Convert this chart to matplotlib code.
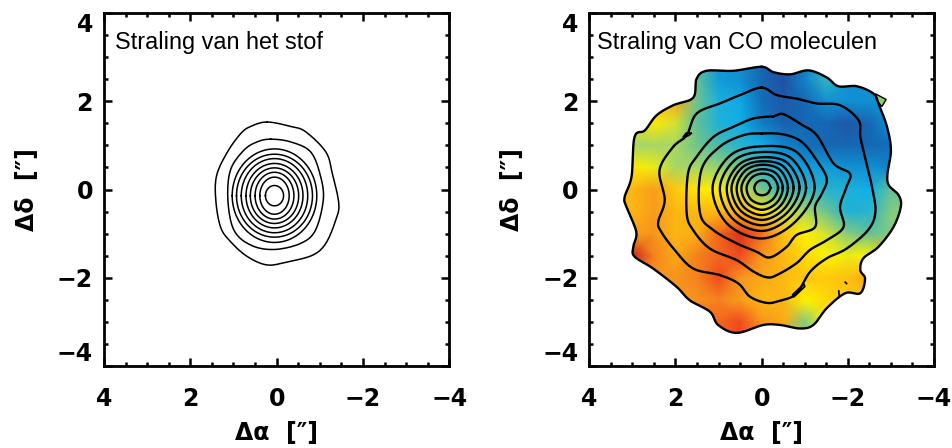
import numpy as np
import matplotlib
matplotlib.use("Agg")
import matplotlib.pyplot as plt
from matplotlib.colors import LinearSegmentedColormap
from matplotlib.patches import Polygon
from matplotlib.ticker import MultipleLocator, FixedLocator

plt.rcParams["font.family"] = ["DejaVu Sans"]

# ---- data, in arcseconds ----
TITLE_DUST = "Straling van het stof"
TITLE_CO = "Straling van CO moleculen"
XLABEL = "Δα  [″]"
YLABEL = "Δδ  [″]"
MAJOR_TICKS = [-4, -2, 0, 2, 4]

dust_outer_x = [.22, -.32, -.67, -1.14, -1.29, -1.44, -1.37, -1.14, -.83, -.25, .22, .68, 1.07, 1.30, 1.41, 1.39, 1.14, .83, .60]
dust_outer_y = [1.53, 1.43, 1.31, .85, .36, -.32, -.69, -1.22, -1.49, -1.64, -1.71, -1.52, -1.18, -.85, -.24, .32, .85, 1.27, 1.43]
dust_second_x = [.14, -.32, -.79, -1.02, -1.08, -.90, -.56, .06, .60, .99, 1.13, 1.07, .76, .45]
dust_second_y = [1.14, 1.08, .85, .29, -.24, -.92, -1.22, -1.36, -1.26, -.92, -.24, .44, .89, 1.08]
dust_ring_cx = 0.05
dust_ring_cy = -0.14
dust_ring_rx = [.21, .34, .45, .56, .66, .77, .88, .98]
dust_ring_ry = [.23, .42, .53, .63, .73, .84, .94, 1.06]

co_edge_x = [0, -.27, -.66, -1.09, -1.51, -1.78, -2.21, -2.60, -2.71, -2.91, -3.00, -2.92, -2.95, -3.18, -3.23, -3.06, -2.71, -2.36, -2.29, -2.40, -2.29, -1.94, -1.51, -1.20, -.89, -.43, -.04, .58, 1.01, 1.20, 1.67, 1.98, 2.52, 2.95, 2.98, 2.91, 3.14, 3.18, 3.02, 2.95, 2.71, 2.44, 2.05, 1.59, 1.51, 1.28, .66]
co_edge_y = [2.78, 2.66, 2.61, 2.70, 2.54, 2.34, 2.34, 2.17, 1.95, 1.42, .89, .36, .10, -.13, -.39, -.85, -1.30, -1.56, -1.83, -2.02, -2.35, -2.35, -2.69, -3.07, -3.15, -3.07, -3.07, -3.25, -3.07, -2.77, -2.51, -2.20, -1.79, -1.52, -1.30, -.96, -.39, -.17, .29, 1.19, 1.34, 1.68, 1.91, 2.08, 2.51, 2.69, 2.69]
co_c1_x = [0, -.35, -.81, -1.28, -1.82, -2.25, -2.29, -2.40, -2.56, -2.64, -2.47, -1.97, -1.51, -1.12, -.81, -.43, -.12, .27, .54, .97, 1.59, 2.02, 2.33, 2.40, 2.25, 2.37, 2.05, 1.74, 1.51, .97, .50]
co_c1_y = [2.31, 2.14, 2.06, 1.95, 1.91, 1.57, 1.19, .74, .06, -.51, -.92, -1.34, -1.56, -1.87, -2.36, -2.52, -2.57, -2.43, -2.13, -1.94, -1.79, -1.37, -.96, -.73, -.24, .44, .97, 1.23, 1.72, 1.95, 2.14]
co_c2_x = [-.27, -.50, -.89, -1.28, -1.67, -2.05, -1.97, -1.82, -1.90, -1.51, -1.12, -.81, -.35, -.12, .19, .58, 1.20, 1.59, 1.74, 1.71, 1.51, 1.12, .66, .19]
co_c2_y = [1.66, 1.71, 1.49, 1.23, .59, .36, .06, -.39, -.85, -1.15, -1.37, -1.67, -1.94, -1.99, -1.86, -1.60, -1.34, -.92, -.54, .36, .74, 1.19, 1.42, 1.61]
co_c3_x = [0, -.50, -.93, -1.28, -1.51, -1.40, -1.24, -1.24, -.81, -.58, -.19, .12, .58, 1.12, 1.43, 1.40, .97, .43]
co_c3_y = [1.27, 1.25, 1.08, .66, .25, -.09, -.39, -.85, -1.03, -1.30, -1.54, -1.41, -1.22, -.92, -.54, .44, .97, 1.23]
co_ring_cx = -0.01
co_ring_cy = 0.04
# ring radii towards the eight compass directions on the sky picture
co_ring_e = [.19, .37, .48, .60, .73, .87, 1.02, 1.22]
co_ring_ne = [.18, .35, .46, .58, .69, .81, .95, 1.14]
co_ring_n = [.17, .32, .42, .52, .60, .69, .81, .94]
co_ring_nw = [.17, .33, .44, .55, .65, .75, .89, 1.04]
co_ring_w = [.18, .36, .48, .59, .71, .82, .98, 1.15]
co_ring_sw = [.18, .37, .49, .61, .72, .84, .98, 1.15]
co_ring_s = [.17, .37, .50, .62, .73, .85, .98, 1.15]
co_ring_se = [.18, .36, .48, .59, .70, .81, .93, 1.09]
co_patch_x = [-2.64, -2.89, -2.79, -2.67]
co_patch_y = [2.17, 2.04, 1.88, 2.02]
co_hole1_x = [-.72, -.98, -1.00, -.74]
co_hole1_y = [-2.38, -2.14, -2.20, -2.44]
co_hole2_x = [1.75, 1.62, 1.70, 1.83]
co_hole2_y = [1.28, 1.28, 1.22, 1.18]
co_dash1_x = [-1.79, -1.80]
co_dash1_y = [-2.30, -2.42]
co_dash2_x = [-1.94, -1.97]
co_dash2_y = [-2.10, -2.13]

field_x = [3.5, 3, 2.5, 2, 1.5, 1, .5, 0, -.5, -1, -1.5, -2, -2.5, -3, -3.5]
field_y = [3, 2.5, 2, 1.5, 1, .5, 0, -.5, -1, -1.5, -2, -2.5, -3, -3.5]
f_y300 = [.60, .60, .70, .75, .40, .20, .20, .12, .05, .15, .30, .20, .20, .20, .20]
f_y250 = [.60, .60, .70, .75, .40, .22, .20, .12, .05, .18, .32, .20, .20, .20, .20]
f_y200 = [.55, .50, .70, .75, .42, .27, .24, .14, .08, .12, .20, .20, .20, .20, .20]
f_y150 = [.55, .55, .62, .55, .40, .28, .25, .17, .10, .12, .12, .07, .12, .20, .20]
f_y100 = [.50, .50, .50, .50, .42, .36, .30, .25, .18, .15, .12, .12, .12, .14, .14]
f_y050 = [.62, .62, .58, .50, .50, .48, .42, .32, .25, .22, .22, .20, .20, .18, .18]
f_y000 = [.75, .72, .78, .68, .62, .60, .55, .42, .33, .32, .30, .28, .25, .40, .40]
f_ym05 = [.72, .72, .78, .72, .72, .72, .72, .62, .55, .50, .42, .28, .30, .45, .45]
f_ym10 = [.78, .78, .80, .72, .74, .85, .92, .84, .70, .60, .55, .45, .40, .45, .45]
f_ym15 = [.95, .95, .82, .75, .82, .85, .88, .80, .72, .65, .60, .58, .60, .78, .78]
f_ym20 = [.85, .85, .80, .80, .82, .88, .80, .75, .72, .68, .68, .70, .75, .70, .70]
f_ym25 = [.80, .80, .80, .80, .80, .82, .78, .72, .72, .60, .65, .68, .68, .68, .68]
f_ym30 = [.85, .85, .85, .85, .85, .85, .88, .80, .75, .45, .60, .68, .68, .68, .68]
f_ym35 = [.85, .85, .85, .85, .85, .85, .88, .80, .75, .45, .60, .68, .68, .68, .68]
field_rows = [f_y300, f_y250, f_y200, f_y150, f_y100, f_y050, f_y000, f_ym05, f_ym10, f_ym15, f_ym20, f_ym25, f_ym30, f_ym35]

velocity_cmap = LinearSegmentedColormap.from_list("velocity", [
    (0.00, "#2b3f98"), (0.15, "#1072bb"), (0.25, "#10aee8"), (0.38, "#55bca0"),
    (0.50, "#a5d568"), (0.60, "#fff200"), (0.70, "#fdc010"), (0.80, "#f7941d"),
    (0.90, "#ee3a1f"), (1.00, "#a01020")])


def smooth_closed(x, y, n=10):
    """Catmull-Rom rendering of a closed outline."""
    p = np.column_stack([x, y])
    t = np.linspace(0, 1, n, endpoint=False)[:, None]
    segs = []
    for i in range(len(p)):
        p0, p1, p2, p3 = p[i - 1], p[i], p[(i + 1) % len(p)], p[(i + 2) % len(p)]
        segs.append(0.5 * (2 * p1 + (p2 - p0) * t + (2 * p0 - 5 * p1 + 4 * p2 - p3) * t ** 2
                           + (3 * p1 - p0 - 3 * p2 + p3) * t ** 3))
    s = np.vstack(segs + [segs[0][:1]])
    return s[:, 0], s[:, 1]


fig = plt.figure(figsize=(9.52, 4.48), dpi=100)
W, H = 952.0, 448.0
ax1 = fig.add_axes([104 / W, (H - 366) / H, 345.3 / W, 353 / H])
ax2 = fig.add_axes([589.3 / W, (H - 366) / H, 344.7 / W, 353 / H])

TICK_FONT = dict(fontsize=17, fontweight="bold", family="DejaVu Sans")
for ax in (ax1, ax2):
    ax.set_xlim(4, -4)
    ax.set_ylim(-4, 4)
    ax.xaxis.set_major_locator(FixedLocator(MAJOR_TICKS))
    ax.yaxis.set_major_locator(FixedLocator(MAJOR_TICKS))
    ax.xaxis.set_minor_locator(MultipleLocator(0.5))
    ax.yaxis.set_minor_locator(MultipleLocator(0.5))
    ax.tick_params(which="major", direction="in", top=True, right=True, length=5.5, width=1.8)
    ax.tick_params(which="minor", direction="in", top=True, right=True, length=2.8, width=1.8)
    ax.tick_params(axis="x", which="major", pad=15)
    ax.tick_params(axis="y", which="major", pad=8)
    for sp in ax.spines.values():
        sp.set_linewidth(2.0)
    ax.figure.canvas.draw()
    for lab in ax.get_xticklabels() + ax.get_yticklabels():
        lab.set(**TICK_FONT)
    ylabs = ax.get_yticklabels()
    ylabs[0].set_verticalalignment("bottom")
    ylabs[-1].set_verticalalignment("top")
    ax.set_xlabel(XLABEL, fontsize=17, fontweight="bold", labelpad=7)
    ax.set_ylabel(YLABEL, fontsize=17, fontweight="bold", labelpad=13)

# left panel
LW1 = 1.1
ax1.plot(*smooth_closed(dust_outer_x, dust_outer_y), color="k", lw=LW1)
ax1.plot(*smooth_closed(dust_second_x, dust_second_y), color="k", lw=LW1)
ang = np.linspace(0, 2 * np.pi, 121)
for rx, ry in zip(dust_ring_rx, dust_ring_ry):
    ax1.plot(dust_ring_cx + rx * np.cos(ang), dust_ring_cy + ry * np.sin(ang), color="k", lw=LW1)
ax1.text(3.75, 3.34, TITLE_DUST, fontsize=16.9, family="Liberation Sans", va="center", ha="left")

# right panel
LW2 = 1.7
ex, ey = smooth_closed(co_edge_x, co_edge_y)
clip = Polygon(np.column_stack([ex, ey]), closed=True, transform=ax2.transData, fc="none", ec="none")
ax2.add_patch(clip)
mesh = ax2.pcolormesh(field_x, field_y, np.array(field_rows), shading="gouraud",
                      cmap=velocity_cmap, vmin=0, vmax=1, rasterized=True)
mesh.set_clip_path(clip)
ax2.add_patch(Polygon(np.column_stack([co_patch_x, co_patch_y]), closed=True, fc="#8fce6a", ec="k", lw=1.0))
ax2.plot(ex, ey, color="k", lw=LW2)
for cx, cy in ((co_c1_x, co_c1_y), (co_c2_x, co_c2_y), (co_c3_x, co_c3_y)):
    ax2.plot(*smooth_closed(cx, cy), color="k", lw=LW2)
dirs = np.deg2rad([180, 135, 90, 45, 0, -45, -90, -135])  # x axis runs right to left
rings = np.array([co_ring_e, co_ring_ne, co_ring_n, co_ring_nw, co_ring_w, co_ring_sw, co_ring_s, co_ring_se])
for k in range(rings.shape[1]):
    r = rings[:, k]
    ax2.plot(*smooth_closed(co_ring_cx + r * np.cos(dirs), co_ring_cy + r * np.sin(dirs)), color="k", lw=LW2)
for hx, hy in ((co_hole1_x, co_hole1_y), (co_hole2_x, co_hole2_y)):
    ax2.add_patch(Polygon(np.column_stack([hx, hy]), closed=True, fc="#fdd017", ec="k", lw=1.2))
for dx, dy in ((co_dash1_x, co_dash1_y), (co_dash2_x, co_dash2_y)):
    ax2.plot(dx, dy, color="k", lw=1.2)
ax2.text(3.82, 3.34, TITLE_CO, fontsize=16.9, family="Liberation Sans", va="center", ha="left")

fig.savefig("out.png", dpi=100)
